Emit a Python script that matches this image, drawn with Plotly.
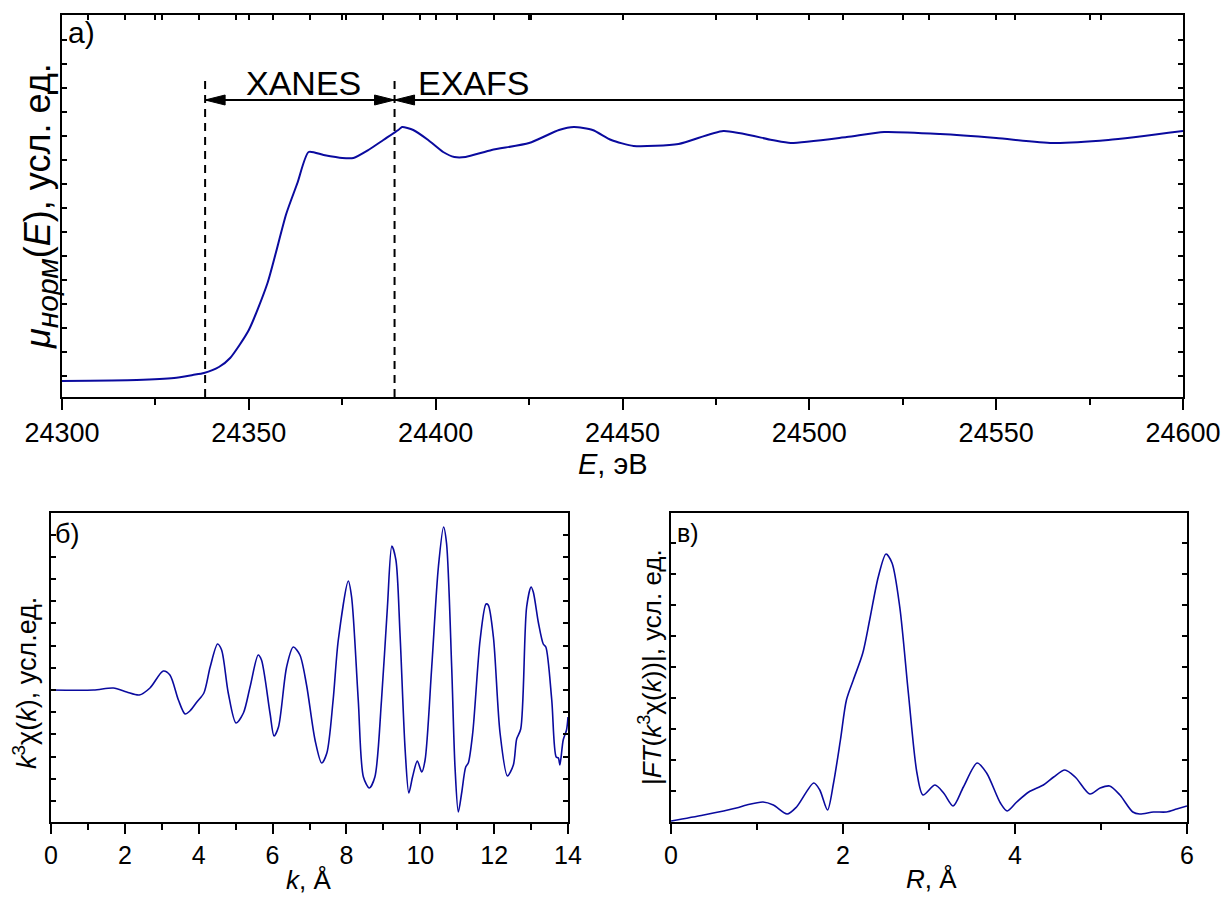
import plotly.graph_objects as go

W, H = 1223, 897

# ---------------- data ----------------
# (a) normalised absorption mu(E)
E_eV = [24300, 24320, 24330, 24335, 24338, 24342, 24345, 24350, 24355, 24360,
        24363, 24366, 24370, 24375, 24378, 24382, 24386, 24390, 24391, 24394,
        24398, 24402, 24405, 24408, 24415, 24425, 24433, 24437, 24442, 24447,
        24453, 24465, 24477, 24490, 24495, 24510, 24520, 24535, 24550, 24565,
        24580, 24600]
mu_norm = [0.16, 0.17, 0.19, 0.22, 0.24, 0.30, 0.39, 0.67, 1.14, 1.83,
           2.14, 2.45, 2.42, 2.39, 2.39, 2.47, 2.57, 2.67, 2.70, 2.67,
           2.57, 2.45, 2.40, 2.40, 2.47, 2.54, 2.67, 2.70, 2.67, 2.57,
           2.51, 2.53, 2.66, 2.57, 2.54, 2.60, 2.65, 2.63, 2.59, 2.54,
           2.57, 2.66]

# (б) k^3 chi(k)
k_A = [0.0, 1.15, 1.69, 2.05, 2.39, 2.68, 3.04, 3.22, 3.45, 3.63,
       3.76, 3.95, 4.14, 4.31, 4.51, 4.62, 4.80, 5.01, 5.21, 5.39,
       5.61, 5.70, 5.93, 6.04, 6.16, 6.38, 6.56, 6.74, 6.92, 7.15,
       7.33, 7.47, 7.64, 7.78, 8.05, 8.14, 8.32, 8.46, 8.62, 8.77,
       8.95, 9.11, 9.23, 9.34, 9.45, 9.59, 9.69, 9.79, 9.92, 10.04,
       10.13, 10.31, 10.49, 10.63, 10.71, 10.85, 10.94, 11.03, 11.12, 11.23,
       11.30, 11.42, 11.62, 11.78, 11.84, 11.98, 12.16, 12.36, 12.52, 12.61,
       12.72, 12.88, 13.00, 13.06, 13.20, 13.33, 13.40, 13.56, 13.68, 13.74,
       13.78, 13.87, 13.96, 14.0]
k3chi = [0.0, 0.0, 0.02, -0.02, -0.05, 0.02, 0.19, 0.15, -0.10, -0.24,
         -0.21, -0.12, -0.03, 0.23, 0.46, 0.40, -0.03, -0.33, -0.23, 0.03,
         0.35, 0.30, -0.23, -0.46, -0.37, 0.23, 0.43, 0.35, 0.05, -0.50,
         -0.73, -0.63, -0.10, 0.50, 1.09, 0.93, -0.10, -0.87, -0.98, -0.87,
         -0.10, 0.83, 1.44, 1.30, 0.57, -0.60, -1.03, -0.87, -0.71, -0.82,
         -0.70, 0.23, 1.23, 1.63, 1.47, 0.23, -0.77, -1.22, -1.03, -0.77,
         -0.73, -0.43, 0.50, 0.86, 0.85, 0.53, -0.43, -0.86, -0.75, -0.49,
         -0.39, 0.83, 1.03, 0.98, 0.67, 0.46, 0.43, -0.10, -0.67, -0.68,
         -0.75, -0.50, -0.40, -0.27]

# (в) |FT(k^3 chi(k))|
R_A = [0.0, 0.38, 0.76, 0.88, 1.07, 1.19, 1.35, 1.46, 1.66, 1.73,
       1.82, 1.89, 1.97, 2.04, 2.12, 2.23, 2.31, 2.41, 2.50, 2.57,
       2.66, 2.76, 2.86, 2.93, 3.07, 3.17, 3.28, 3.40, 3.56, 3.67,
       3.83, 3.91, 4.02, 4.16, 4.33, 4.45, 4.58, 4.70, 4.87, 4.99,
       5.10, 5.22, 5.37, 5.45, 5.61, 5.76, 5.88, 6.0]
FT_mag = [0.01, 0.07, 0.14, 0.17, 0.20, 0.17, 0.08, 0.15, 0.39, 0.32,
          0.12, 0.39, 0.82, 1.22, 1.42, 1.69, 2.02, 2.45, 2.68, 2.59,
          2.15, 1.29, 0.49, 0.27, 0.37, 0.29, 0.16, 0.35, 0.59, 0.49,
          0.19, 0.11, 0.20, 0.30, 0.37, 0.45, 0.52, 0.45, 0.28, 0.34,
          0.36, 0.27, 0.10, 0.08, 0.10, 0.10, 0.13, 0.16]

# annotation geometry for panel (a)
E_XANES_START = 24338.3
E_EDGE = 24389.0
E_END = 24600
ARROW_Y = 2.97
DASH_TOP = 3.22

# ---------------- layout helpers ----------------
FONT = "Arial, Liberation Sans, sans-serif"
LINE_COLOR = "#0a0a9e"


def px_x(p):
    return p / W


def px_y(p):
    return 1 - p / H


dom_a = dict(x=[px_x(62), px_x(1183)], y=[px_y(397), px_y(15)])
dom_b = dict(x=[px_x(51), px_x(568)], y=[px_y(822), px_y(513)])
dom_c = dict(x=[px_x(671), px_x(1187)], y=[px_y(822), px_y(513)])

fig = go.Figure()

fig.add_trace(go.Scatter(x=E_eV, y=mu_norm, mode="lines", xaxis="x", yaxis="y",
                         line=dict(color=LINE_COLOR, width=2, shape="spline", smoothing=0.6),
                         showlegend=False, hoverinfo="skip"))
fig.add_trace(go.Scatter(x=k_A, y=k3chi, mode="lines", xaxis="x2", yaxis="y2",
                         line=dict(color=LINE_COLOR, width=1.6, shape="spline", smoothing=0.8),
                         showlegend=False, hoverinfo="skip"))
fig.add_trace(go.Scatter(x=R_A, y=FT_mag, mode="lines", xaxis="x3", yaxis="y3",
                         line=dict(color=LINE_COLOR, width=1.6, shape="spline", smoothing=0.8),
                         showlegend=False, hoverinfo="skip"))
# empty traces tying the top (inner tick) axes to their subplots
for xa, ya in (("x4", "y"), ("x5", "y2"), ("x6", "y3")):
    fig.add_trace(go.Scatter(x=[], y=[], xaxis=xa, yaxis=ya, showlegend=False, hoverinfo="skip"))


def xaxis(domain, anchor, rng, dtick, minor_dtick, fsize, major_len, minor_len):
    return dict(domain=domain, anchor=anchor, range=rng, dtick=dtick, tick0=rng[0],
                tickformat="d", automargin=False,
                showgrid=False, zeroline=False, showline=True, linecolor="black",
                linewidth=2, mirror=True, ticks="outside", ticklen=major_len,
                tickwidth=2, tickcolor="black",
                tickfont=dict(family=FONT, size=fsize, color="black"),
                minor=dict(dtick=minor_dtick, ticks="outside", ticklen=minor_len,
                           tickwidth=2, tickcolor="black", showgrid=False))


def topaxis(overlay, rng, dtick):
    return dict(overlaying=overlay, side="top", range=rng, dtick=dtick, tick0=rng[0],
                automargin=False,
                showgrid=False, zeroline=False, showline=False, ticks="inside",
                ticklen=5, tickwidth=2, tickcolor="black", showticklabels=False)


def yaxis(domain, anchor, rng, tick0, dtick):
    return dict(domain=domain, anchor=anchor, range=rng, tick0=tick0, dtick=dtick,
                automargin=False,
                showgrid=False, zeroline=False, showline=True, linecolor="black",
                linewidth=2, mirror="ticks", ticks="inside", ticklen=5, tickwidth=2,
                tickcolor="black", showticklabels=False)


rng_a = [24300, 24600]
rng_b = [0, 14]
rng_c = [0, 6]

fig.update_layout(
    width=W, height=H,
    margin=dict(l=0, r=0, t=0, b=0, autoexpand=False),
    paper_bgcolor="white", plot_bgcolor="white",
    font=dict(family=FONT, color="black"),
    xaxis=xaxis(dom_a["x"], "y", rng_a, 50, 25, 27, 11, 6),
    yaxis=yaxis(dom_a["y"], "x", [0, 3.82], 0.21, 0.24),
    xaxis2=xaxis(dom_b["x"], "y2", rng_b, 2, 1, 25, 10, 6),
    yaxis2=yaxis(dom_b["y"], "x2", [-1.32, 1.77], 0, 0.222),
    xaxis3=xaxis(dom_c["x"], "y3", rng_c, 2, 1, 25, 10, 6),
    yaxis3=yaxis(dom_c["y"], "x3", [0, 3.09], 0, 0.31),
    xaxis4=topaxis("x", rng_a, 25),
    xaxis5=topaxis("x2", rng_b, 1),
    xaxis6=topaxis("x3", rng_c, 1),
)

# dashed boundaries and arrows in panel (a)
for e in (E_XANES_START, E_EDGE):
    fig.add_shape(type="line", xref="x", yref="y", x0=e, x1=e, y0=0, y1=DASH_TOP,
                  line=dict(color="black", width=2, dash="8px,6px"))

fig.add_shape(type="line", xref="x", yref="y", x0=E_XANES_START, x1=E_END,
              y0=ARROW_Y, y1=ARROW_Y, line=dict(color="black", width=2))

HEAD_L = 20 / (1121 / 300)   # arrow head length in eV (20 px)
HEAD_H = 0.05                # half height in y units (5 px)


def head(tip, direction):
    base = tip + direction * HEAD_L
    return (f"M {tip},{ARROW_Y} L {base},{ARROW_Y + HEAD_H} "
            f"L {base},{ARROW_Y - HEAD_H} Z")


for tip, d in ((E_XANES_START, 1), (E_EDGE, -1), (E_EDGE, 1)):
    fig.add_shape(type="path", xref="x", yref="y", path=head(tip, d),
                  fillcolor="black", line=dict(color="black", width=1))


def text(x, y, s, size, xref="paper", yref="paper", angle=0, xanchor="center",
         yanchor="middle"):
    fig.add_annotation(x=x, y=y, xref=xref, yref=yref, text=s, showarrow=False,
                       textangle=angle, xanchor=xanchor, yanchor=yanchor,
                       font=dict(family=FONT, size=size, color="black"))


text(24364.5, 3.14, "XANES", 34, xref="x", yref="y")
text(24410.0, 3.14, "EXAFS", 34, xref="x", yref="y")

# panel labels
text(px_x(66), px_y(14), "а)", 30, xanchor="left", yanchor="top")
text(px_x(53), px_y(517), "б)", 27, xanchor="left", yanchor="top")
text(px_x(675), px_y(517), "в)", 25, xanchor="left", yanchor="top")

# axis titles
text(px_x(40), px_y(206),
     "<i>μ</i><sub><span style='font-size:30px'><i>норм</i></span></sub>(<i>E</i>), усл. ед.",
     36, angle=-90)
text(px_x(613), px_y(464), "<i>E</i>, эВ", 29)
text(px_x(25), px_y(683), "<i>k</i><sup>3</sup>χ(<i>k</i>), усл.ед.", 27, angle=-90)
text(px_x(308), px_y(880), "<i>k</i>, Å", 26)
text(px_x(650), px_y(667), "|<i>FT</i>(<i>k</i><sup>3</sup>χ(<i>k</i>))|, усл. ед.", 26, angle=-90)
text(px_x(931), px_y(879), "<i>R</i>, Å", 26)

fig.write_html("out.html")
